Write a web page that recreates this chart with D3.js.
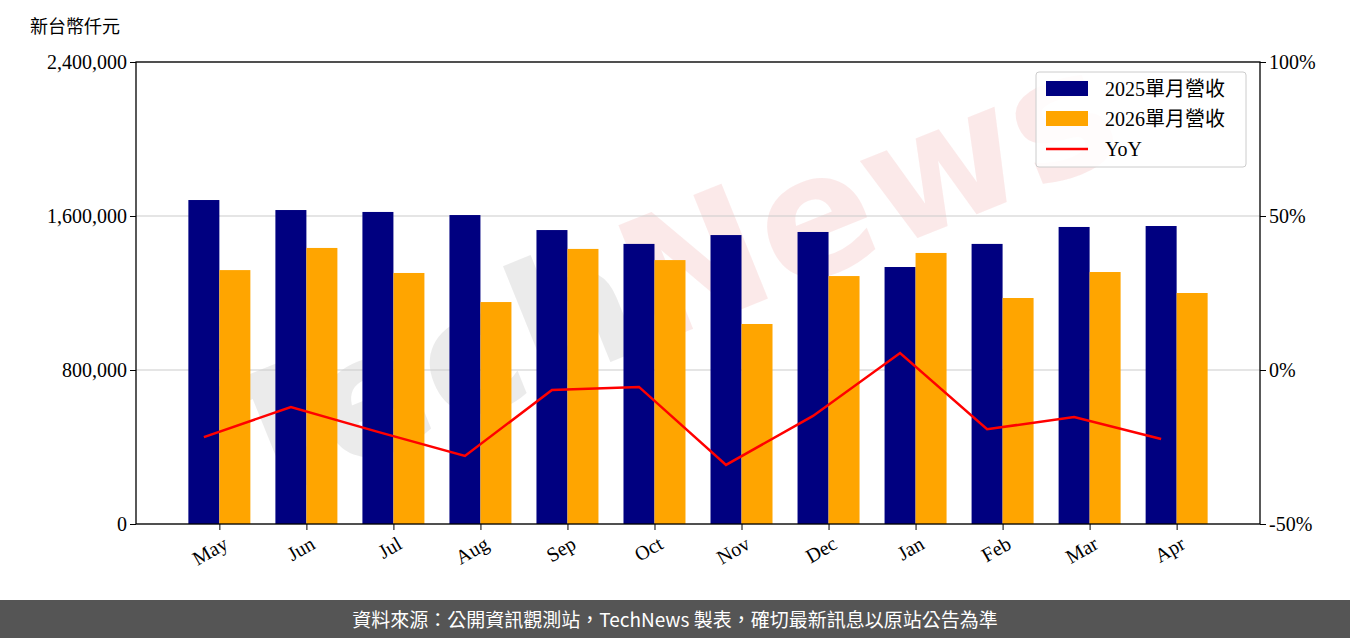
<!DOCTYPE html><html><head><meta charset="utf-8">
<script src="https://cdn.jsdelivr.net/npm/d3@7"></script>
<style>body{margin:0;background:#fff}svg{display:block}</style></head><body>
<svg id="c" width="1350" height="638"></svg>
<script>
const months=["May","Jun","Jul","Aug","Sep","Oct","Nov","Dec","Jan","Feb","Mar","Apr"];
const rev2025=[1683000,1631000,1621000,1605000,1527000,1455000,1501000,1517000,1335000,1455000,1543000,1548000];
const rev2026=[1319000,1434000,1304000,1153000,1429000,1371000,1039000,1288000,1408000,1174000,1309000,1200000];
const yoy=[-21.8,-12.0,-20.1,-27.9,-6.5,-5.5,-30.8,-14.9,5.5,-19.2,-15.3,-22.4];
const leftTicks=[0,800000,1600000,2400000];
const rightTicks=[-50,0,50,100];
const F="'Liberation Serif','DejaVu Serif','Noto Sans CJK TC',serif";
const svg=d3.select("#c");
const L=136,R=1260,T=62,B=524;
const x=d3.scaleLinear().domain([-0.958,11.958]).range([L,R]);
const y=d3.scaleLinear().domain([0,2400000]).range([B,T]);
const y2=d3.scaleLinear().domain([-50,100]).range([B,T]);
const bw=31;
// watermark
const wm=svg.append("text").attr("x",690).attr("y",330).attr("text-anchor","middle")
 .attr("transform","rotate(-22,690,330)").attr("font-family","'DejaVu Sans',sans-serif").attr("font-weight","bold")
 .attr("font-size",170);
wm.append("tspan").attr("fill","#d8d8d8").attr("fill-opacity",0.5).text("Tech");
wm.append("tspan").attr("fill","#f4c0c0").attr("fill-opacity",0.35).text("News");
// grid
svg.append("g").selectAll("line").data(leftTicks).join("line").attr("x1",L).attr("x2",R)
 .attr("y1",d=>y(d)).attr("y2",d=>y(d)).attr("stroke","#ccc").attr("stroke-width",1.2);
svg.append("g").selectAll("rect").data(rev2025).join("rect").attr("x",(d,i)=>x(i)-bw).attr("width",bw)
 .attr("y",d=>y(d)).attr("height",d=>B-y(d)).attr("fill","#000080");
svg.append("g").selectAll("rect").data(rev2026).join("rect").attr("x",(d,i)=>x(i)).attr("width",bw)
 .attr("y",d=>y(d)).attr("height",d=>B-y(d)).attr("fill","#ffa500");
svg.append("path").datum(yoy).attr("d",d3.line().x((d,i)=>x(i)-bw/2).y(d=>y2(d))).attr("fill","none").attr("stroke","#ff0000").attr("stroke-width",2.5);
svg.append("rect").attr("x",L).attr("y",T).attr("width",R-L).attr("height",B-T).attr("fill","none").attr("stroke","#000").attr("stroke-width",1.3);
const ga=svg.append("g").attr("transform",`translate(${L},0)`).call(d3.axisLeft(y).tickValues(leftTicks).tickFormat(d3.format(",")).tickSize(6));
const gr=svg.append("g").attr("transform",`translate(${R},0)`).call(d3.axisRight(y2).tickValues(rightTicks).tickFormat(d=>d+"%").tickSize(6));
const gb=svg.append("g").attr("transform",`translate(0,${B})`).call(d3.axisBottom(x).tickValues(d3.range(12)).tickFormat(i=>months[i]).tickSize(6));
[ga,gr,gb].forEach(g=>{g.select(".domain").remove();g.selectAll("text").attr("font-family",F).attr("font-size",20).attr("fill","#000");});
gb.selectAll("text").attr("text-anchor","end").attr("dy","0.8em").attr("transform","translate(-3,2) rotate(-30)");
svg.append("text").attr("x",30).attr("y",33).attr("font-family",F).attr("font-size",18).text("新台幣仟元");
// legend
const lg=svg.append("g");
lg.append("rect").attr("x",1036).attr("y",72).attr("width",210).attr("height",95).attr("rx",3).attr("fill","#fff").attr("fill-opacity",0.85).attr("stroke","#ccc");
const items=[["2025單月營收","#000080","bar"],["2026單月營收","#ffa500","bar"],["YoY","#ff0000","line"]];
items.forEach((it,i)=>{const yy=89+i*30;
 if(it[2]=="bar")lg.append("rect").attr("x",1046).attr("y",yy-8).attr("width",42).attr("height",15).attr("fill",it[1]);
 else lg.append("line").attr("x1",1046).attr("x2",1088).attr("y1",yy).attr("y2",yy).attr("stroke",it[1]).attr("stroke-width",2.5);
 lg.append("text").attr("x",1105).attr("y",yy+7).attr("font-family",F).attr("font-size",20).text(it[0]);});
svg.append("rect").attr("x",0).attr("y",600).attr("width",1350).attr("height",38).attr("fill","#555");
svg.append("text").attr("x",675).attr("y",627).attr("text-anchor","middle").attr("fill","#fff").attr("font-family","'Noto Sans CJK TC','Noto Sans',sans-serif").attr("font-size",19).text("資料來源：公開資訊觀測站，TechNews 製表，確切最新訊息以原站公告為準");
</script></body></html>
